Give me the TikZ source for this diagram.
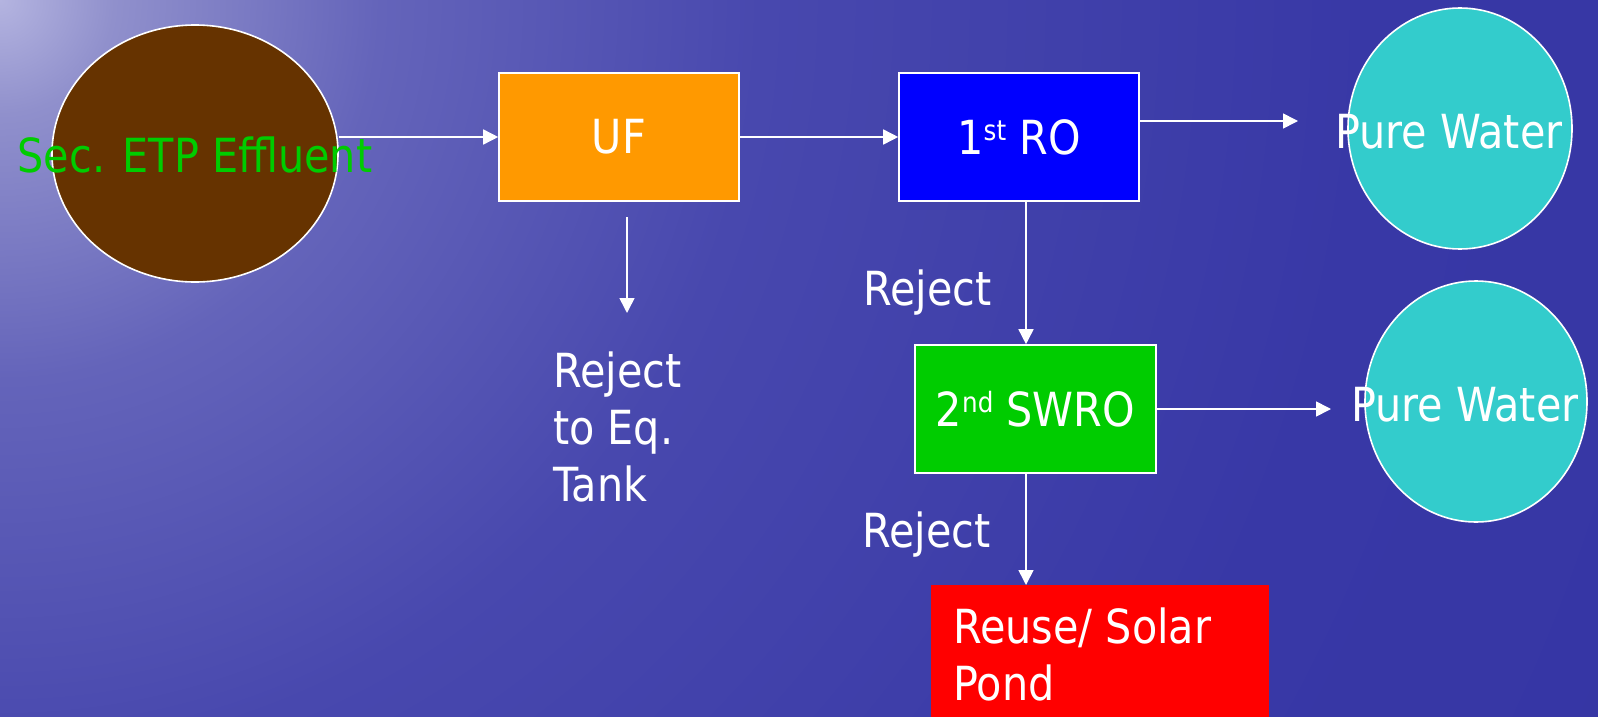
\documentclass[tikz,border=0pt]{standalone}
\usepackage{fontspec}
\setmainfont{DejaVu Sans}[FakeStretch=0.88]
\usetikzlibrary{arrows.meta,shapes.geometric}
\definecolor{brownc}{HTML}{663300}
\definecolor{orangec}{HTML}{FF9900}
\definecolor{bluec}{HTML}{0000FF}
\definecolor{greenc}{HTML}{00CC00}
\definecolor{cyanc}{HTML}{33CCCC}
\definecolor{redc}{HTML}{FF0000}
\definecolor{bgA}{HTML}{B4B4E0}
\definecolor{bgB}{HTML}{9090CC}
\definecolor{bgC}{HTML}{6464BA}
\definecolor{bgD}{HTML}{4848AE}
\definecolor{bgE}{HTML}{3838A6}
\definecolor{bgF}{HTML}{2C2C9C}
\pgfdeclareradialshading{bgshade}{\pgfpoint{0bp}{0bp}}{color(0bp)=(bgA); color(1.5bp)=(bgB); color(5bp)=(bgC); color(10bp)=(bgD); color(18bp)=(bgE); color(50bp)=(bgF)}
\newcommand\supx[1]{\raisebox{14pt}{\fontsize{28}{28}\selectfont #1}}
\begin{document}
\begin{tikzpicture}[x=1pt,y=-1pt,
  lbl/.style={font=\fontsize{47}{57}\selectfont, text=white, inner sep=0pt},
  box/.style={lbl, draw=white, line width=1.6pt, rectangle},
  ell/.style={draw=white, line width=1.6pt, ellipse, inner sep=0pt},
  arr/.style={draw=white, line width=1.6pt, -{Triangle[length=15pt,width=15pt]}}]
\useasboundingbox (0,0) rectangle (1598,717);
\begin{scope}
\clip (0,0) rectangle (1598,717);
\fill[bgF] (0,0) rectangle (1598,717);
\shade[shading=bgshade] (0,0) circle (1900);
\end{scope}
% nodes
\node[ell, fill=brownc, minimum width=286, minimum height=257] (eff) at (195,153.5) {};
\node[lbl, text=greenc, anchor=base] (efft) at (195,172) {Sec. ETP Effluent};
\node[box, fill=orangec, minimum width=240, minimum height=128] (uf) at (619,137) {UF};
\node[box, fill=bluec, minimum width=240, minimum height=128] (ro) at (1019,137) {1\supx{st} RO};
\node[ell, fill=cyanc, minimum width=224, minimum height=241] (pw1) at (1460,128.5) {};
\node[lbl, anchor=base west] (pw1t) at (1335,148) {Pure Water};
\node[box, fill=greenc, minimum width=241, minimum height=128] (sw) at (1035.5,409) {2\supx{nd} SWRO};
\node[ell, fill=cyanc, minimum width=222, minimum height=241] (pw2) at (1476,401.5) {};
\node[lbl, anchor=base west] (pw2t) at (1351,421) {Pure Water};
\node[lbl, anchor=base west] (rj1) at (863,305) {Reject};
\node[lbl, anchor=base west] (rj2) at (862,547) {Reject};
\node[fill=redc, inner sep=0pt, minimum width=338, minimum height=132, anchor=north west] (pond) at (931,585) {};
\node[lbl, anchor=base west, align=left] (pondt) at (953,700) {Reuse/ Solar\\Pond};
\node[lbl, anchor=base west, align=left] (eqt) at (553,501) {Reject\\to Eq.\\Tank};
% coordinates
\coordinate (pw1in) at (1298,121);
\coordinate (pw2in) at (1331,409);
\coordinate (rocol) at (1026,0);
\coordinate (ufr1) at (627,217);
\coordinate (ufr2) at (627,313);
% connectors
\draw[arr] (eff.east |- uf.west) -- (uf.west);
\draw[arr] (uf.east) -- (ro.west);
\draw[arr] (ro.east |- pw1in) -- (pw1in);
\draw[arr] (ro.south -| rocol) -- (sw.north -| rocol);
\draw[arr] (sw.east |- pw2in) -- (pw2in);
\draw[arr] (sw.south -| rocol) -- (pond.north -| rocol);
\draw[arr] (ufr1) -- (ufr2);
\end{tikzpicture}
\end{document}
